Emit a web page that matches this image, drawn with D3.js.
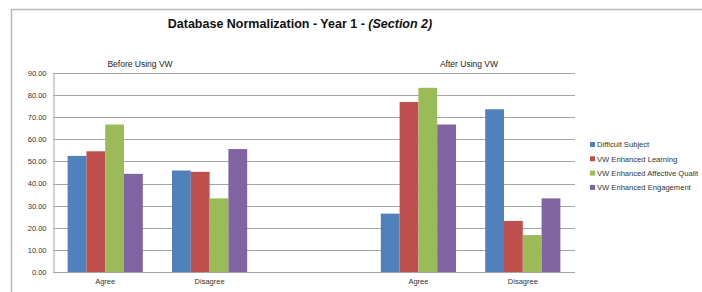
<!DOCTYPE html>
<html><head><meta charset="utf-8">
<script src="https://cdn.jsdelivr.net/npm/d3@7"></script>
<style>html,body{margin:0;padding:0;background:#fff;}svg{display:block;font-family:"Liberation Sans",Arial,sans-serif;}</style>
</head><body>
<script>
const categories = ["Agree", "Disagree", "", "Agree", "Disagree"];
const groupLabels = ["Before Using VW", "After Using VW"];
const seriesNames = ["Difficult Subject", "VW Enhanced Learning", "VW Enhanced Affective Qualit", "VW Enhanced Engagement"];
const difficultSubject = [52.5, 45.9, null, 26.4, 73.6];
const enhancedLearning = [54.6, 45.3, null, 76.9, 23.1];
const affectiveQuality = [66.7, 33.3, null, 83.3, 16.7];
const engagement = [44.4, 55.6, null, 66.7, 33.3];
const yTicks = [0, 10, 20, 30, 40, 50, 60, 70, 80, 90];
const colors = ["#4F81BD", "#C0504D", "#9BBB59", "#8064A2"];

(function () {
const series = [difficultSubject, enhancedLearning, affectiveQuality, engagement];
const W = 702, H = 292;
const svg = d3.select("body").append("svg").attr("width", W).attr("height", H);

// outer chart border
svg.append("path").attr("d", "M11.5,292 V9.5 H702").attr("fill", "none").attr("stroke", "#b8b8b8").attr("stroke-width", 1.5);

const pL = 53, pR = 575, pT = 73, pB = 272;
const x = d3.scaleBand().domain(d3.range(categories.length)).range([pL, pR]).paddingInner(0.28).paddingOuter(0.14);
const xs = d3.scaleBand().domain(d3.range(series.length)).range([0, x.bandwidth()]);
const y = d3.scaleLinear().domain([0, 90]).range([pB, pT]);

// gridlines
svg.append("g").selectAll("line").data(yTicks).join("line")
  .attr("x1", pL).attr("x2", pR)
  .attr("y1", d => Math.round(y(d)) + 0.5).attr("y2", d => Math.round(y(d)) + 0.5)
  .attr("stroke", "#a6a6a6").attr("stroke-width", 1);

// y axis
const yAxis = svg.append("g").attr("transform", `translate(${pL + 0.5},0)`)
  .call(d3.axisLeft(y).tickValues(yTicks).tickFormat(d3.format(".2f")).tickSize(0).tickPadding(7));
yAxis.select(".domain").attr("stroke", "#a6a6a6");
yAxis.selectAll("text").attr("font-size", 7.5).attr("fill", "#333");

// bars
series.forEach((vals, si) => {
  svg.append("g").selectAll("rect").data(vals.map((v, i) => ({v, i})).filter(d => d.v != null)).join("rect")
    .attr("x", d => x(d.i) + xs(si))
    .attr("width", xs.bandwidth())
    .attr("y", d => y(d.v))
    .attr("height", d => y(0) - y(d.v))
    .attr("fill", colors[si]);
});

// x axis labels
const xAxis = svg.append("g").attr("transform", `translate(0,${pB})`)
  .call(d3.axisBottom(x).tickFormat(i => categories[i]).tickSize(0).tickPadding(7));
xAxis.select(".domain").remove();
xAxis.selectAll("text").attr("font-size", 7.5).attr("fill", "#333");

// group labels
svg.append("g").selectAll("text").data(groupLabels).join("text")
  .attr("x", (d, i) => i === 0 ? 140 : 469).attr("y", 67)
  .attr("text-anchor", "middle").attr("font-size", 8.5).attr("fill", "#222").text(d => d);

// title
const title = svg.append("text").attr("x", 300).attr("y", 28).attr("text-anchor", "middle")
  .attr("font-size", 12.5).attr("font-weight", "bold").attr("fill", "#111");
title.append("tspan").text("Database Normalization - Year 1 - ");
title.append("tspan").attr("font-style", "italic").text("(Section 2)");

// legend
const lg = svg.append("g").attr("transform", "translate(590,145)");
const li = lg.selectAll("g").data(seriesNames).join("g").attr("transform", (d, i) => `translate(0,${i * 14.3})`);
li.append("rect").attr("x", 0).attr("y", -3).attr("width", 5).attr("height", 5).attr("fill", (d, i) => colors[i]);
li.append("text").attr("x", 7).attr("y", 2.4).attr("font-size", 7.6).attr("fill", "#333").text(d => d);
})();
</script>
</body></html>
